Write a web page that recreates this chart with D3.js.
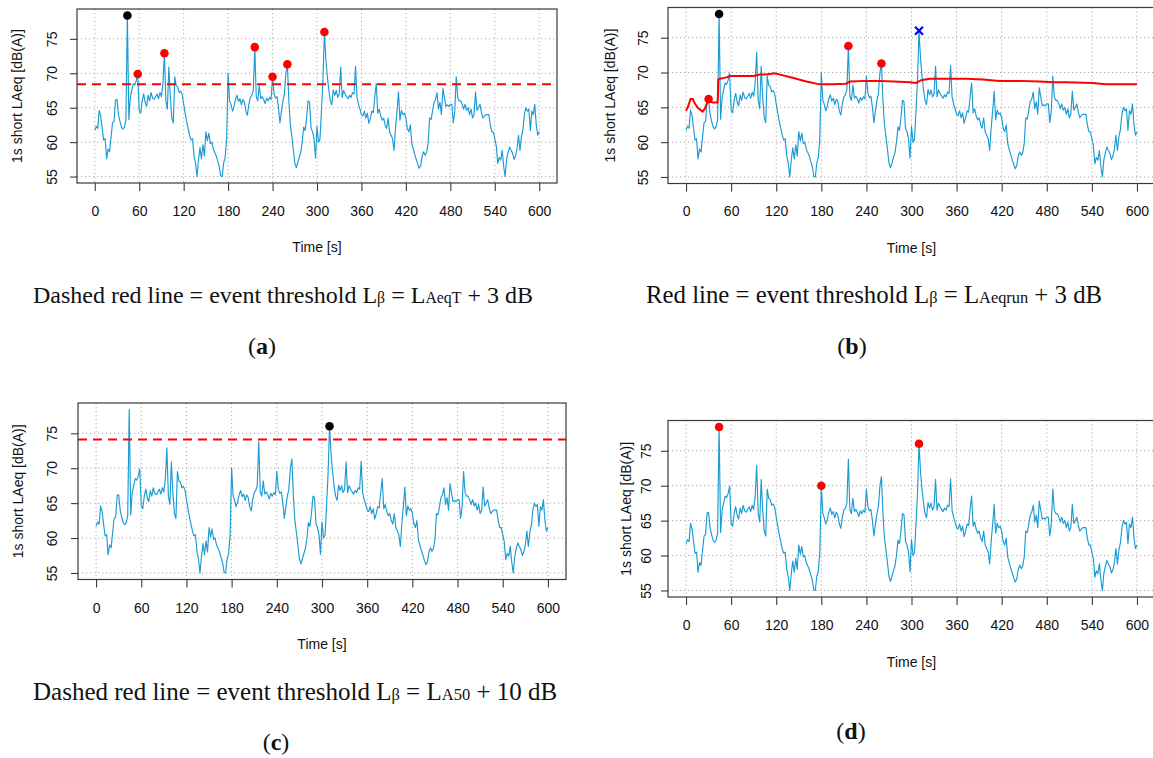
<!DOCTYPE html>
<html>
<head>
<meta charset="utf-8">
<script src="https://cdn.jsdelivr.net/npm/d3@7"></script>
<style>
  html, body { margin: 0; padding: 0; background: #fff; }
  svg { display: block; }
</style>
</head>
<body>
<svg id="fig" width="1153" height="758"></svg>
<script>
// 1-s short LAeq, sampled every 2 s from 0 to 600 s
const step = 2;
const levels = [
  61.7, 62.3, 62.0, 64.6, 63.8, 62.0, 60.3, 60.5, 57.6, 59.0,   // 0-18
  58.6, 60.8, 62.8, 63.0, 66.1, 66.2, 64.0, 63.0, 62.2, 61.9,   // 20-38
  62.2, 63.2, 78.4, 63.3, 66.5, 67.5, 68.5, 68.3, 68.9, 69.9,   // 40-58
  64.6, 64.2, 66.0, 67.0, 65.8, 65.2, 66.8, 66.0, 67.2, 66.4,   // 60-78
  66.2, 66.6, 67.0, 66.3, 67.2, 66.6, 68.5, 72.9, 66.0, 64.8,   // 80-98
  70.9, 66.5, 63.5, 62.8, 69.5, 68.2, 68.0, 67.2, 67.4, 66.9,   // 100-118
  65.5, 64.2, 63.0, 62.0, 61.0, 60.3, 60.5, 58.0, 57.0, 55.0,   // 120-138
  57.4, 59.2, 57.6, 59.6, 58.0, 61.5, 60.2, 61.3, 59.8, 60.0,   // 140-158
  59.0, 58.5, 58.0, 57.2, 56.5, 55.1, 55.0, 57.0, 57.8, 60.5,   // 160-178
  70.0, 66.0, 65.4, 64.5, 65.2, 66.2, 66.8, 65.9, 66.3, 65.4,   // 180-198
  66.2, 65.8, 64.5, 63.9, 65.5, 66.5, 66.8, 67.5, 73.8, 66.6,   // 200-218
  66.0, 68.2, 66.3, 66.6, 66.2, 65.6, 66.4, 66.0, 66.5, 66.2,   // 220-238
  69.5, 67.0, 66.4, 66.6, 65.0, 62.8, 64.5, 66.0, 67.0, 70.0,   // 240-258
  71.3, 66.0, 62.5, 60.8, 59.0, 57.0, 56.3, 57.0, 57.8, 58.5,   // 260-278
  60.0, 62.2, 61.7, 63.5, 66.0, 65.8, 62.0, 61.5, 60.5, 57.7,   // 280-298
  62.3, 60.0, 60.4, 64.5, 69.0, 76.0, 72.0, 69.5, 67.5, 66.0,   // 300-318
  65.4, 67.6, 66.8, 67.5, 66.5, 67.0, 70.9, 66.5, 67.5, 67.0,   // 320-338
  66.6, 66.3, 66.8, 66.5, 67.2, 67.0, 71.0, 66.5, 65.5, 64.8,   // 340-358
  64.0, 63.8, 64.5, 63.5, 64.2, 62.7, 63.5, 64.5, 64.3, 66.6,   // 360-378
  68.5, 64.2, 64.8, 63.8, 63.2, 63.5, 62.5, 62.0, 63.5, 61.5,   // 380-398
  61.0, 60.5, 58.8, 62.0, 64.5, 67.3, 63.2, 64.6, 64.0, 64.2,   // 400-418
  63.5, 62.0, 61.5, 62.5, 59.8, 59.0, 58.2, 57.5, 56.8, 56.2,   // 420-438
  56.6, 58.0, 58.6, 58.1, 58.5, 59.8, 63.5, 63.3, 64.5, 65.8,   // 440-458
  66.2, 67.2, 64.8, 65.8, 64.0, 67.8, 66.5, 65.2, 65.4, 65.2,   // 460-478
  65.5, 65.5, 62.8, 64.5, 69.5, 66.5, 66.0, 66.0, 65.5, 64.8,   // 480-498
  65.5, 64.6, 65.0, 64.0, 64.8, 63.5, 64.0, 67.3, 64.6, 65.0,   // 500-518
  65.5, 64.3, 63.5, 63.8, 64.0, 64.0, 64.0, 62.5, 61.5, 61.5,   // 520-538
  60.5, 59.5, 56.9, 57.8, 57.4, 58.8, 56.5, 55.0, 57.5, 58.5,   // 540-558
  59.3, 58.8, 58.4, 57.5, 58.0, 59.0, 61.0, 58.8, 60.8, 61.8,   // 560-578
  64.0, 65.0, 64.5, 64.8, 61.7, 64.5, 64.0, 65.5, 62.5, 61.0,   // 580-598
  61.5                                                          // 600
];

// running threshold LAeq,run + 3 dB (panel b)
const runTimes  = [0, 3, 6, 9, 12, 16, 22, 25, 28, 31, 35, 42, 43, 45, 54, 58, 72, 90, 98, 107,
                   118, 125, 143, 160, 178, 196, 213, 218, 240, 258, 276, 298, 306, 313, 324,
                   346, 373, 395, 417, 444, 470, 488, 506, 541, 559, 600];
const runLevels = [64.5, 65.2, 66.2, 66.2, 65.5, 64.9, 64.4, 64.8, 65.6, 65.9, 65.7, 65.7, 69.0, 69.1,
                   69.3, 69.5, 69.5, 69.5, 69.7, 69.7, 69.9, 69.7, 69.2, 68.7, 68.3, 68.3, 68.4,
                   68.7, 68.8, 68.8, 68.7, 68.6, 68.5, 68.9, 69.1, 69.1, 69.1, 69.0, 68.8, 68.8,
                   68.7, 68.6, 68.6, 68.5, 68.3, 68.3];

const thresholdA = 68.4;   // LAeqT + 3 dB
const thresholdC = 74.1;   // LA50 + 10 dB

const xTicks = [0, 60, 120, 180, 240, 300, 360, 420, 480, 540, 600];
const yTicks = [55, 60, 65, 70, 75];

// detected events (times in s)
const eventsA = [58, 94, 216, 240, 260, 310];
const maxA = [44];
const eventsB = [30, 216, 260];
const maxB = [44];
const rejectedB = [310];
const maxC = [310];
const eventsD = [44, 180, 310];

const BLUE = "#1a9bd4";
const RED = "#ff0000";
const SANS = "'Liberation Sans', Arial, Helvetica, sans-serif";
const SERIF = "'Liberation Serif', 'Times New Roman', serif";
const AXIS_FS = 14;

const svg = d3.select("#fig");

const panels = [
  { left: 77,  top: 9,     width: 480, height: 174, yLab: 25, yTitle: 60, xLab: 28, xTitle: 64,
    threshold: thresholdA, red: eventsA, black: maxA },
  { left: 668, top: 7.5,   width: 487, height: 176, yLab: 25, yTitle: 58, xLab: 28, xTitle: 64.5,
    running: true, red: eventsB, black: maxB, cross: rejectedB },
  { left: 78,  top: 403,   width: 488, height: 176.5, yLab: 26, yTitle: 60, xLab: 29, xTitle: 65,
    threshold: thresholdC, red: [], black: maxC },
  { left: 668, top: 420.5, width: 487, height: 176.5, yLab: 22, yTitle: 42, xLab: 28, xTitle: 64.7,
    red: eventsD, black: [] }
];

const [lo, hi] = d3.extent(levels);
const yPad = (hi - lo) * 0.04;

function levelAt(t) { return levels[Math.round(t / step)]; }

function drawPanel(p) {
  const g = svg.append("g");
  const x = d3.scaleLinear().domain([-24, 624]).range([p.left, p.left + p.width]);
  const y = d3.scaleLinear().domain([lo - yPad, hi + yPad]).range([p.top + p.height, p.top]);
  const bottom = p.top + p.height;

  // dotted grid
  g.append("g").selectAll("line").data(xTicks).join("line")
    .attr("x1", d => x(d)).attr("x2", d => x(d))
    .attr("y1", p.top).attr("y2", bottom)
    .attr("stroke", "#a8a8a8").attr("stroke-width", 1).attr("stroke-dasharray", "1.2,2.8");
  g.append("g").selectAll("line").data(yTicks).join("line")
    .attr("x1", p.left).attr("x2", p.left + p.width)
    .attr("y1", d => y(d)).attr("y2", d => y(d))
    .attr("stroke", "#a8a8a8").attr("stroke-width", 1).attr("stroke-dasharray", "1.2,2.8");

  // level series
  const line = d3.line().x((d, i) => x(i * step)).y(d => y(d));
  g.append("path").datum(levels).attr("d", line)
    .attr("fill", "none").attr("stroke", BLUE).attr("stroke-width", 1.15)
    .attr("stroke-linejoin", "round");

  // thresholds
  if (p.threshold !== undefined) {
    g.append("line")
      .attr("x1", p.left).attr("x2", p.left + p.width)
      .attr("y1", y(p.threshold)).attr("y2", y(p.threshold))
      .attr("stroke", RED).attr("stroke-width", 2).attr("stroke-dasharray", "9,6");
  }
  if (p.running) {
    const run = d3.line().x(d => x(d[0])).y(d => y(d[1]));
    g.append("path").datum(d3.zip(runTimes, runLevels)).attr("d", run)
      .attr("fill", "none").attr("stroke", RED).attr("stroke-width", 2);
  }

  // event markers
  g.append("g").selectAll("circle").data(p.red).join("circle")
    .attr("cx", d => x(d)).attr("cy", d => y(levelAt(d))).attr("r", 4.3).attr("fill", RED);
  g.append("g").selectAll("circle").data(p.black).join("circle")
    .attr("cx", d => x(d)).attr("cy", d => y(levelAt(d))).attr("r", 4.3).attr("fill", "#000");
  if (p.cross) {
    g.append("g").selectAll("path").data(p.cross).join("path")
      .attr("transform", d => `translate(${x(d)},${y(levelAt(d))})`)
      .attr("d", "M-4,-4L4,4M-4,4L4,-4")
      .attr("stroke", "#0000ff").attr("stroke-width", 2.2).attr("fill", "none");
  }

  // frame
  g.append("rect").attr("x", p.left).attr("y", p.top).attr("width", p.width).attr("height", p.height)
    .attr("fill", "none").attr("stroke", "#3a3a3a").attr("stroke-width", 1.2);

  // x axis
  const xa = g.append("g").attr("transform", `translate(0,${bottom})`)
    .call(d3.axisBottom(x).tickValues(xTicks).tickSize(8).tickPadding(p.xLab - 13));
  xa.select(".domain").remove();
  xa.selectAll("line").attr("stroke", "#3a3a3a").attr("stroke-width", 1.1);
  xa.selectAll("text").attr("font-family", SANS).attr("font-size", AXIS_FS).attr("fill", "#111");

  // y axis with labels parallel to the axis
  const ya = g.append("g").attr("transform", `translate(${p.left},0)`)
    .call(d3.axisLeft(y).tickValues(yTicks).tickSize(7));
  ya.select(".domain").remove();
  ya.selectAll("line").attr("stroke", "#3a3a3a").attr("stroke-width", 1.1);
  ya.selectAll("text")
    .attr("x", null).attr("dy", "0.35em").attr("text-anchor", "middle")
    .attr("transform", `translate(${-p.yLab},0) rotate(-90)`)
    .attr("font-family", SANS).attr("font-size", AXIS_FS).attr("fill", "#111");

  // axis titles
  g.append("text").attr("x", x(300)).attr("y", bottom + p.xTitle).attr("dy", "0.35em")
    .attr("text-anchor", "middle").attr("font-family", SANS).attr("font-size", AXIS_FS)
    .attr("fill", "#111").text("Time [s]");
  g.append("text")
    .attr("transform", `translate(${p.left - p.yTitle},${(p.top + bottom) / 2}) rotate(-90)`)
    .attr("dy", "0.35em").attr("text-anchor", "middle")
    .attr("font-family", SANS).attr("font-size", AXIS_FS).attr("fill", "#111")
    .text("1s short LAeq [dB(A)]");
}

panels.forEach(drawPanel);

// captions
function caption(x0, cy, size, parts) {
  const t = svg.append("text").attr("x", x0).attr("y", cy).attr("text-anchor", "start")
    .attr("font-family", SERIF).attr("font-size", size).attr("fill", "#111");
  parts.forEach(([s, small]) => {
    const ts = t.append("tspan").text(s);
    if (small) ts.attr("font-size", size * 0.66);
  });
}
caption(33, 303, 24, [["Dashed red line = event threshold L"], ["\u03b2", 1], [" = L"], ["AeqT", 1], [" + 3 dB"]]);
caption(646, 303, 24.8, [["Red line = event threshold L"], ["\u03b2", 1], [" = L"], ["Aeqrun", 1], [" + 3 dB"]]);
caption(33, 700, 25, [["Dashed red line = event threshold L"], ["\u03b2", 1], [" = L"], ["A50", 1], [" + 10 dB"]]);

function panelTag(cx, cy, letter) {
  const t = svg.append("text").attr("x", cx).attr("y", cy).attr("text-anchor", "middle")
    .attr("font-family", SERIF).attr("font-size", 24).attr("fill", "#111");
  t.append("tspan").text("(");
  t.append("tspan").attr("font-weight", "bold").text(letter);
  t.append("tspan").text(")");
}
panelTag(262, 354, "a");
panelTag(852, 354, "b");
panelTag(276, 750, "c");
panelTag(851, 739, "d");
</script>
</body>
</html>
